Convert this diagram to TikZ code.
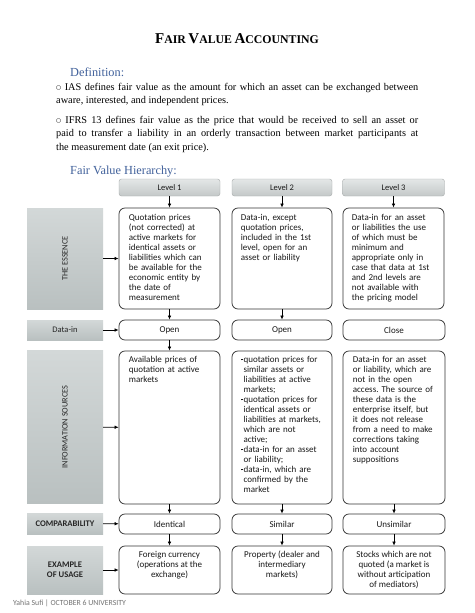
\documentclass[tikz,border=0pt]{standalone}
\usepackage{fontspec}
\setmainfont{Liberation Serif}
\newfontfamily\cf{Carlito}
\newfontfamily\dejavu{DejaVu Sans}
\usetikzlibrary{arrows.meta}
\frenchspacing
\definecolor{hblue}{HTML}{41619B}
\definecolor{lvltop}{HTML}{E4E7E7}
\definecolor{lvlbot}{HTML}{C3C8C8}
\definecolor{lbltop}{HTML}{D3D8D8}
\definecolor{lblbot}{HTML}{B9C0C0}
\definecolor{frame}{HTML}{333333}
\newcommand{\sqb}{\makebox[2.8pt][l]{\rule[1.8pt]{1.7pt}{1.7pt}}}
\newcommand{\ind}{\hspace*{2.8pt}}
\newcommand{\circb}{\raisebox{0.6pt}{\dejavu\fontsize{5.8}{8}\selectfont ○}}
\begin{document}
\begin{tikzpicture}[x=1pt,y=-1pt,
  wbox/.style={draw=frame, line width=0.75pt, rounded corners=6pt, fill=white, inner sep=0pt},
  lvlbox/.style={draw=lvlbot!85!black, line width=0.4pt, rounded corners=2.5pt, top color=lvltop, bottom color=lvlbot, inner sep=0pt, text=black!90, font=\cf\fontsize{8.5}{10}\selectfont},
  lblbox/.style={top color=lbltop, bottom color=lblbot, inner sep=0pt, text=black!85, font=\cf\fontsize{8.5}{10}\selectfont, align=center},
  arr/.style={-{Latex[length=4pt,width=3.6pt]}, line width=0.7pt, black},
  btxt/.style={anchor=north west, inner sep=0pt, text width=100pt, align=left, text=black!90, font=\cf\fontsize{9}{10}\selectfont},
  ctxt/.style={anchor=north, inner sep=0pt, align=center, text=black!90, font=\cf\fontsize{9}{10}\selectfont},
  mtxt/.style={text=black!90, font=\cf\fontsize{9}{10}\selectfont}
]
\useasboundingbox[fill=white] (0,0) rectangle (474,613);

% title and text
\node[anchor=base, inner sep=0pt, font=\bfseries] (title) at (237,43)
  {{\fontsize{15}{17}\selectfont F}{\fontsize{11.8}{13}\selectfont AIR} {\fontsize{15}{17}\selectfont V}{\fontsize{11.8}{13}\selectfont ALUE} {\fontsize{15}{17}\selectfont A}{\fontsize{11.8}{13}\selectfont CCOUNTING}};
\node[anchor=base west, inner sep=0pt, text=hblue, font=\fontsize{12.3}{14}\selectfont] (defh) at (70,76.5) {Definition:};
\node[anchor=base west, inner sep=0pt, text width=362pt, align=justify, font=\fontsize{10.3}{13.3}\selectfont] (p1) at (56,90)
  {\circb\ IAS defines fair value as the amount for which an asset can be exchanged between\linebreak aware, interested, and independent prices.};
\node[anchor=base west, inner sep=0pt, text width=362pt, align=justify, font=\fontsize{10.3}{13.5}\selectfont] (p2) at (56,123)
  {\circb\ IFRS 13 defines fair value as the price that would be received to sell an asset or\linebreak paid to transfer a liability in an orderly transaction between market participants at\linebreak the measurement date (an exit price).};
\node[anchor=base west, inner sep=0pt, text=hblue, font=\fontsize{12.3}{14}\selectfont] (hierh) at (70,174) {Fair Value Hierarchy:};

% level boxes
\node[lvlbox, minimum width=101pt, minimum height=17pt] (l1) at (169.5,187.5) {Level 1};
\node[lvlbox, minimum width=100pt, minimum height=17pt] (l2) at (282,187.5) {Level 2};
\node[lvlbox, minimum width=102pt, minimum height=17pt] (l3) at (393.5,187.5) {Level 3};

% left labels
\node[lblbox, minimum width=76pt, minimum height=101pt] (sEss) at (65,258.5) {};
\node[rotate=90, inner sep=0pt, text=black!85, font=\cf\fontsize{8.3}{10}\selectfont] (tEss) at (sEss.center) {THE ESSENCE};
\node[lblbox, minimum width=76pt, minimum height=20pt] (sData) at (65,330) {Data-in};
\node[lblbox, minimum width=76pt, minimum height=153pt] (sInfo) at (65,427) {};
\node[rotate=90, inner sep=0pt, text=black!85, font=\cf\fontsize{8.3}{10}\selectfont] (tInfo) at (sInfo.center) {INFORMATION SOURCES};
\node[lblbox, minimum width=76pt, minimum height=21pt, font=\cf\bfseries\fontsize{8.6}{10}\selectfont] (sComp) at (65,523.5) {COMPARABILITY};
\node[lblbox, minimum width=76pt, minimum height=48pt, font=\cf\bfseries\fontsize{8.6}{10}\selectfont] (sEx) at (65,570) {EXAMPLE\\OF USAGE};

% essence row
\node[wbox, minimum width=101pt, minimum height=101pt] (e1) at (169.5,258.5) {};
\node[wbox, minimum width=100pt, minimum height=101pt] (e2) at (282,258.5) {};
\node[wbox, minimum width=101pt, minimum height=101pt] (e3) at (393.5,258.5) {};
\node[btxt] (te1) at ([xshift=10pt,yshift=-6pt]e1.north west) {Quotation prices\\(not corrected) at\\active markets for\\identical assets or\\liabilities which can\\be available for the\\economic entity by\\the date of\\measurement};
\node[btxt] (te2) at ([xshift=9pt,yshift=-6pt]e2.north west) {Data-in, except\\quotation prices,\\included in the 1st\\level, open for an\\asset or liability};
\node[btxt] (te3) at ([xshift=9pt,yshift=-6pt]e3.north west) {Data-in for an asset\\or liabilities the use\\of which must be\\minimum and\\appropriate only in\\case that data at 1st\\and 2nd levels are\\not available with\\the pricing model};

% data-in row
\node[wbox, minimum width=101pt, minimum height=20pt, mtxt] (d1) at (169.5,330) {Open};
\node[wbox, minimum width=100pt, minimum height=20pt, mtxt] (d2) at (282,330) {Open};
\node[wbox, minimum width=102pt, minimum height=20pt, mtxt] (d3) at (394,330) {Close};

% information row
\node[wbox, minimum width=101pt, minimum height=153pt] (i1) at (169.5,427.5) {};
\node[wbox, minimum width=100pt, minimum height=153pt] (i2) at (282,427.5) {};
\node[wbox, minimum width=102pt, minimum height=153pt] (i3) at (394,427.5) {};
\node[btxt] (ti1) at ([xshift=10pt,yshift=-5pt]i1.north west) {Available prices of\\quotation at active\\markets};
\node[btxt] (ti2) at ([xshift=9pt,yshift=-5pt]i2.north west) {\sqb quotation prices for\\\ind similar assets or\\\ind liabilities at active\\\ind markets;\\\sqb quotation prices for\\\ind identical assets or\\\ind liabilities at markets,\\\ind which are not\\\ind active;\\\sqb data-in for an asset\\\ind or liability;\\\sqb data-in, which are\\\ind confirmed by the\\\ind market};
\node[btxt] (ti3) at ([xshift=10pt,yshift=-5.5pt]i3.north west) {Data-in for an asset\\or liability, which are\\not in the open\\access. The source of\\these data is the\\enterprise itself, but\\it does not release\\from a need to make\\corrections taking\\into account\\suppositions};

% comparability row
\node[wbox, minimum width=101pt, minimum height=20pt, mtxt] (c1) at (169.5,524) {Identical};
\node[wbox, minimum width=100pt, minimum height=20pt, mtxt] (c2) at (282,524) {Similar};
\node[wbox, minimum width=102pt, minimum height=20pt, mtxt] (c3) at (394,524) {Unsimilar};

% example row
\node[wbox, minimum width=101pt, minimum height=48pt] (x1) at (169.5,570) {};
\node[wbox, minimum width=100pt, minimum height=48pt] (x2) at (282,570) {};
\node[wbox, minimum width=102pt, minimum height=48pt] (x3) at (394,570) {};
\node[ctxt] (tx1) at ([yshift=-5pt]x1.north) {Foreign currency\\(operations at the\\exchange)};
\node[ctxt] (tx2) at ([yshift=-5pt]x2.north) {Property (dealer and\\intermediary\\markets)};
\node[ctxt] (tx3) at ([yshift=-5pt]x3.north) {Stocks which are not\\quoted (a market is\\without articipation\\of mediators)};

% footer
\node[anchor=base west, inner sep=0pt, text=black!55, font=\cf\fontsize{7.8}{9}\selectfont] (foot) at (13,605) {Yahia Sufi | OCTOBER 6 UNIVERSITY};

% arrows vertical
\draw[arr] (l1) -- (e1);
\draw[arr] (l2) -- (e2);
\draw[arr] (l3) -- (e3);
\draw[arr] (e1) -- (d1);
\draw[arr] (e2) -- (d2);
\draw[arr] (d1) -- (i1);
\draw[arr] (i1) -- (c1);
\draw[arr] (i2) -- (c2);
\draw[arr] (i3) -- (c3);
\draw[arr] (c1) -- (x1);
\draw[arr] (c2) -- (x2);
\draw[arr] (c3) -- (x3);
% arrows horizontal
\draw[arr] (sEss) -- (e1);
\draw[arr] (sData) -- (d1);
\draw[arr] (sInfo) -- (i1);
\draw[arr] (sComp) -- (c1);
\draw[arr] (sEx) -- (x1);
\end{tikzpicture}
\end{document}
